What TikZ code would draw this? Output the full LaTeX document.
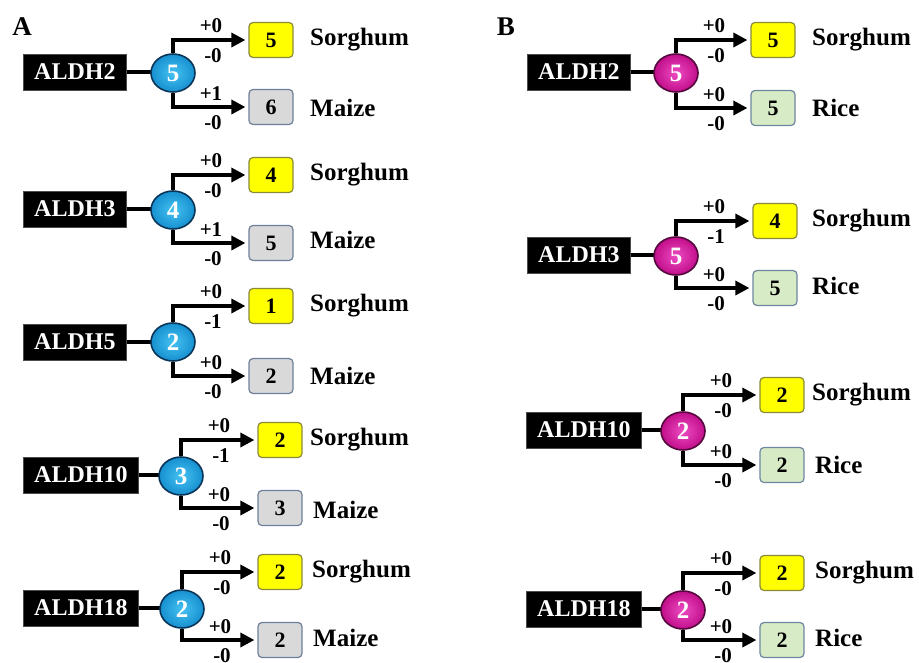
\documentclass[tikz,border=0pt]{standalone}
\usepackage{fontspec}
\setmainfont{Liberation Serif}
\usetikzlibrary{shapes.geometric,arrows.meta,calc}
\definecolor{blueA}{HTML}{1690D0}
\definecolor{blueL}{HTML}{45C2F2}
\definecolor{blueR}{HTML}{0B3558}
\definecolor{magA}{HTML}{C20E8A}
\definecolor{magL}{HTML}{EC4CC2}
\definecolor{magR}{HTML}{55083E}
\definecolor{ybox}{HTML}{FFFF00}
\definecolor{yrim}{HTML}{8A8A3A}
\definecolor{gbox}{HTML}{D9D9D9}
\definecolor{grim}{HTML}{6F7F99}
\definecolor{rbox}{HTML}{D6EBC6}
\definecolor{rrim}{HTML}{6F86A0}
\tikzset{
  gene/.style={rectangle, fill=black, draw=black!70, text=white, font=\fontsize{24}{26}\selectfont\bfseries,
    inner xsep=11pt, inner ysep=0pt, minimum height=36pt, anchor=west},
  ellA/.style={ellipse, minimum width=44pt, minimum height=38pt, inner sep=0pt,
    inner color=blueL, outer color=blueA, draw=blueR, line width=1.6pt, text=white,
    font=\fontsize{25}{27}\selectfont\bfseries},
  ellB/.style={ellA, inner color=magL, outer color=magA, draw=magR},
  cnt/.style={rectangle, rounded corners=4pt, minimum width=44pt, minimum height=35pt, inner sep=0pt,
    line width=1.2pt, font=\fontsize{22}{24}\selectfont\bfseries},
  sbox/.style={cnt, fill=ybox, draw=yrim},
  mbox/.style={cnt, fill=gbox, draw=grim},
  rcbox/.style={cnt, fill=rbox, draw=rrim},
  spname/.style={anchor=west, inner sep=0pt, font=\fontsize{25}{27}\selectfont\bfseries},
  lbl/.style={inner sep=0pt, font=\fontsize{21}{23}\selectfont\bfseries},
  arr/.style={line width=3.3pt, -{Triangle[length=14pt,width=14pt]}, shorten >=3pt},
  link/.style={line width=3.3pt},
  panel/.style={inner sep=0pt, font=\fontsize{27}{29}\selectfont\bfseries}
}
\newcommand\branches[8]{%
  \draw[arr] (#2.north) |- (#3.west);
  \draw[arr] (#2.south) |- (#4.west);
  \node[lbl] (#1tp) at ($(#2.north |- #3.west)+(38,-14)$) {#5};
  \node[lbl] (#1tm) at ($(#2.north |- #3.west)+(40,16)$) {#6};
  \node[lbl] (#1bp) at ($(#2.south |- #4.west)+(38,-13)$) {#7};
  \node[lbl] (#1bm) at ($(#2.south |- #4.west)+(40,16)$) {#8};
}
\begin{document}
\begin{tikzpicture}[x=1pt,y=-1pt]
\useasboundingbox (0,0) rectangle (919,662);
\node[panel] (pA) at (22,27) {A};
\node[panel] (pB) at (506,27) {B};
% ---------- Panel A ----------
% block 1
\node[gene] (ga1) at (23,72) {ALDH2};
\node[sbox] (sa1) at (271,40) {5};
\node[mbox] (ma1) at (271,107) {6};
\draw[link] (ga1.east) -- (173,72) coordinate (ca1);
\node[ellA] (ea1) at (173,73) {5};
\branches{a1}{ea1}{sa1}{ma1}{+0}{-0}{+1}{-0}
\node[spname] (tsa1) at (310,40) {Sorghum};
\node[spname] (tma1) at (310,108) {Maize};
% block 2
\node[gene] (ga2) at (23,209) {ALDH3};
\node[sbox] (sa2) at (271,175) {4};
\node[mbox] (ma2) at (271,243) {5};
\draw[link] (ga2.east) -- (173,209) coordinate (ca2);
\node[ellA] (ea2) at (173,210) {4};
\branches{a2}{ea2}{sa2}{ma2}{+0}{-0}{+1}{-0}
\node[spname] (tsa2) at (310,175) {Sorghum};
\node[spname] (tma2) at (310,240) {Maize};
% block 3
\node[gene] (ga3) at (23,342) {ALDH5};
\node[sbox] (sa3) at (271,306) {1};
\node[mbox] (ma3) at (271,376) {2};
\draw[link] (ga3.east) -- (173,342) coordinate (ca3);
\node[ellA] (ea3) at (173,342) {2};
\branches{a3}{ea3}{sa3}{ma3}{+0}{-1}{+0}{-0}
\node[spname] (tsa3) at (310,306) {Sorghum};
\node[spname] (tma3) at (310,376) {Maize};
% block 4
\node[gene] (ga4) at (23,475) {ALDH10};
\node[sbox] (sa4) at (280,440) {2};
\node[mbox] (ma4) at (280,508) {3};
\draw[link] (ga4.east) -- (181,475) coordinate (ca4);
\node[ellA] (ea4) at (181,476) {3};
\branches{a4}{ea4}{sa4}{ma4}{+0}{-1}{+0}{-0}
\node[spname] (tsa4) at (310,440) {Sorghum};
\node[spname] (tma4) at (313,510) {Maize};
% block 5
\node[gene] (ga5) at (23,608) {ALDH18};
\node[sbox] (sa5) at (280,572) {2};
\node[mbox] (ma5) at (280,640) {2};
\draw[link] (ga5.east) -- (182,608) coordinate (ca5);
\node[ellA] (ea5) at (182,609) {2};
\branches{a5}{ea5}{sa5}{ma5}{+0}{-0}{+0}{-0}
\node[spname] (tsa5) at (312,572) {Sorghum};
\node[spname] (tma5) at (313,638) {Maize};
% ---------- Panel B ----------
% block 1
\node[gene] (gb1) at (527,72) {ALDH2};
\node[sbox] (sb1) at (773,40) {5};
\node[rcbox] (rb1) at (773,108) {5};
\draw[link] (gb1.east) -- (676,72) coordinate (cb1);
\node[ellB] (eb1) at (676,73) {5};
\branches{b1}{eb1}{sb1}{rb1}{+0}{-0}{+0}{-0}
\node[spname] (tsb1) at (812,40) {Sorghum};
\node[spname] (trb1) at (812,108) {Rice};
% block 2
\node[gene] (gb2) at (527,255) {ALDH3};
\node[sbox] (sb2) at (775,221) {4};
\node[rcbox] (rb2) at (775,288) {5};
\draw[link] (gb2.east) -- (676,255) coordinate (cb2);
\node[ellB] (eb2) at (676,256) {5};
\branches{b2}{eb2}{sb2}{rb2}{+0}{-1}{+0}{-0}
\node[spname] (tsb2) at (812,221) {Sorghum};
\node[spname] (trb2) at (812,286) {Rice};
% block 3
\node[gene] (gb3) at (526,430) {ALDH10};
\node[sbox] (sb3) at (782,395) {2};
\node[rcbox] (rb3) at (782,465) {2};
\draw[link] (gb3.east) -- (683,430) coordinate (cb3);
\node[ellB] (eb3) at (683,431) {2};
\branches{b3}{eb3}{sb3}{rb3}{+0}{-0}{+0}{-0}
\node[spname] (tsb3) at (812,395) {Sorghum};
\node[spname] (trb3) at (815,465) {Rice};
% block 4
\node[gene] (gb4) at (526,609) {ALDH18};
\node[sbox] (sb4) at (782,573) {2};
\node[rcbox] (rb4) at (782,640) {2};
\draw[link] (gb4.east) -- (683,609) coordinate (cb4);
\node[ellB] (eb4) at (683,610) {2};
\branches{b4}{eb4}{sb4}{rb4}{+0}{-0}{+0}{-0}
\node[spname] (tsb4) at (815,573) {Sorghum};
\node[spname] (trb4) at (815,638) {Rice};
\end{tikzpicture}
\end{document}
